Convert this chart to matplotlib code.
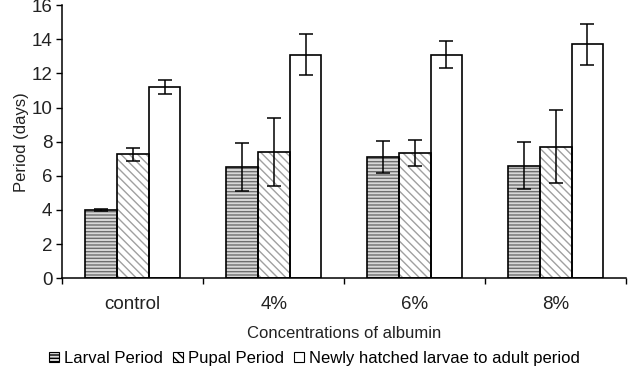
import numpy as np
import matplotlib
matplotlib.use("Agg")
import matplotlib.pyplot as plt
from matplotlib.patches import Patch

plt.rcParams['font.family'] = ['Liberation Sans', 'DejaVu Sans']

categories = ["control", "4%", "6%", "8%"]
series = ["Larval Period", "Pupal Period", "Newly hatched larvae to adult period"]
larval = [4.0, 6.5, 7.1, 6.6]
larval_err = [0.05, 1.4, 0.95, 1.35]
pupal = [7.25, 7.4, 7.35, 7.7]
pupal_err = [0.4, 2.0, 0.75, 2.15]
total = [11.2, 13.1, 13.1, 13.7]
total_err = [0.4, 1.2, 0.8, 1.2]

fig = plt.figure(figsize=(6.28, 3.66), dpi=100)
ax = fig.add_axes([0.099, 0.240, 0.898, 0.746])

x = np.arange(len(categories))
w = 0.226
offsets = [-w, 0, w]
values = [larval, pupal, total]
errors = [larval_err, pupal_err, total_err]
hatches = ["-----", "\\\\\\\\", ""]
hatch_colors = ["#6e6e6e", "#a0a0a0", "white"]
face_colors = ["#d8d8d8", "white", "white"]

for off, vals, errs, h, hc, fc in zip(offsets, values, errors, hatches, hatch_colors, face_colors):
    # hatched fill first, black outline on top
    ax.bar(x + off, vals, w, color=fc, edgecolor=hc, hatch=h, linewidth=0, zorder=2)
    ax.bar(x + off, vals, w, fill=False, edgecolor="black", linewidth=1.2, zorder=3)
    ax.errorbar(x + off, vals, yerr=errs, fmt="none", ecolor="black",
                elinewidth=1.1, capsize=5, capthick=1.1, zorder=4)

ax.set_xlim(-0.5, len(categories) - 0.5)
ax.set_ylim(0, 16)
ax.set_yticks(np.arange(0, 17, 2))
ax.set_xticks(x)
ax.set_xticklabels(categories)
ax.set_xticks(np.arange(-0.5, len(categories), 1.0), minor=True)
ax.tick_params(axis="x", which="major", length=0, pad=13, labelsize=13.5, labelcolor="#222222")
ax.tick_params(axis="x", which="minor", length=4, direction="out", width=1)
ax.tick_params(axis="y", length=4, direction="out", width=1, labelsize=13.5, pad=3,
               labelcolor="#222222")

for s in ["top", "right"]:
    ax.spines[s].set_visible(False)
ax.spines["left"].set_linewidth(1.1)
ax.spines["bottom"].set_linewidth(1.1)

ax.set_ylabel("Period (days)", fontsize=12, labelpad=2, color="#222222")
ax.set_xlabel("Concentrations of albumin", fontsize=12, labelpad=9, color="#222222")

handles = [Patch(facecolor=face_colors[i], edgecolor="black", hatch=hatches[i], linewidth=0.8)
           for i in range(3)]
fig.legend(handles, series, loc="upper center", bbox_to_anchor=(0.5, 25 / 366), ncol=3,
           frameon=False, fontsize=12, handlelength=0.6, handleheight=0.6,
           handletextpad=0.3, columnspacing=0.6, borderpad=0.1)

fig.savefig("out.png", dpi=100)
